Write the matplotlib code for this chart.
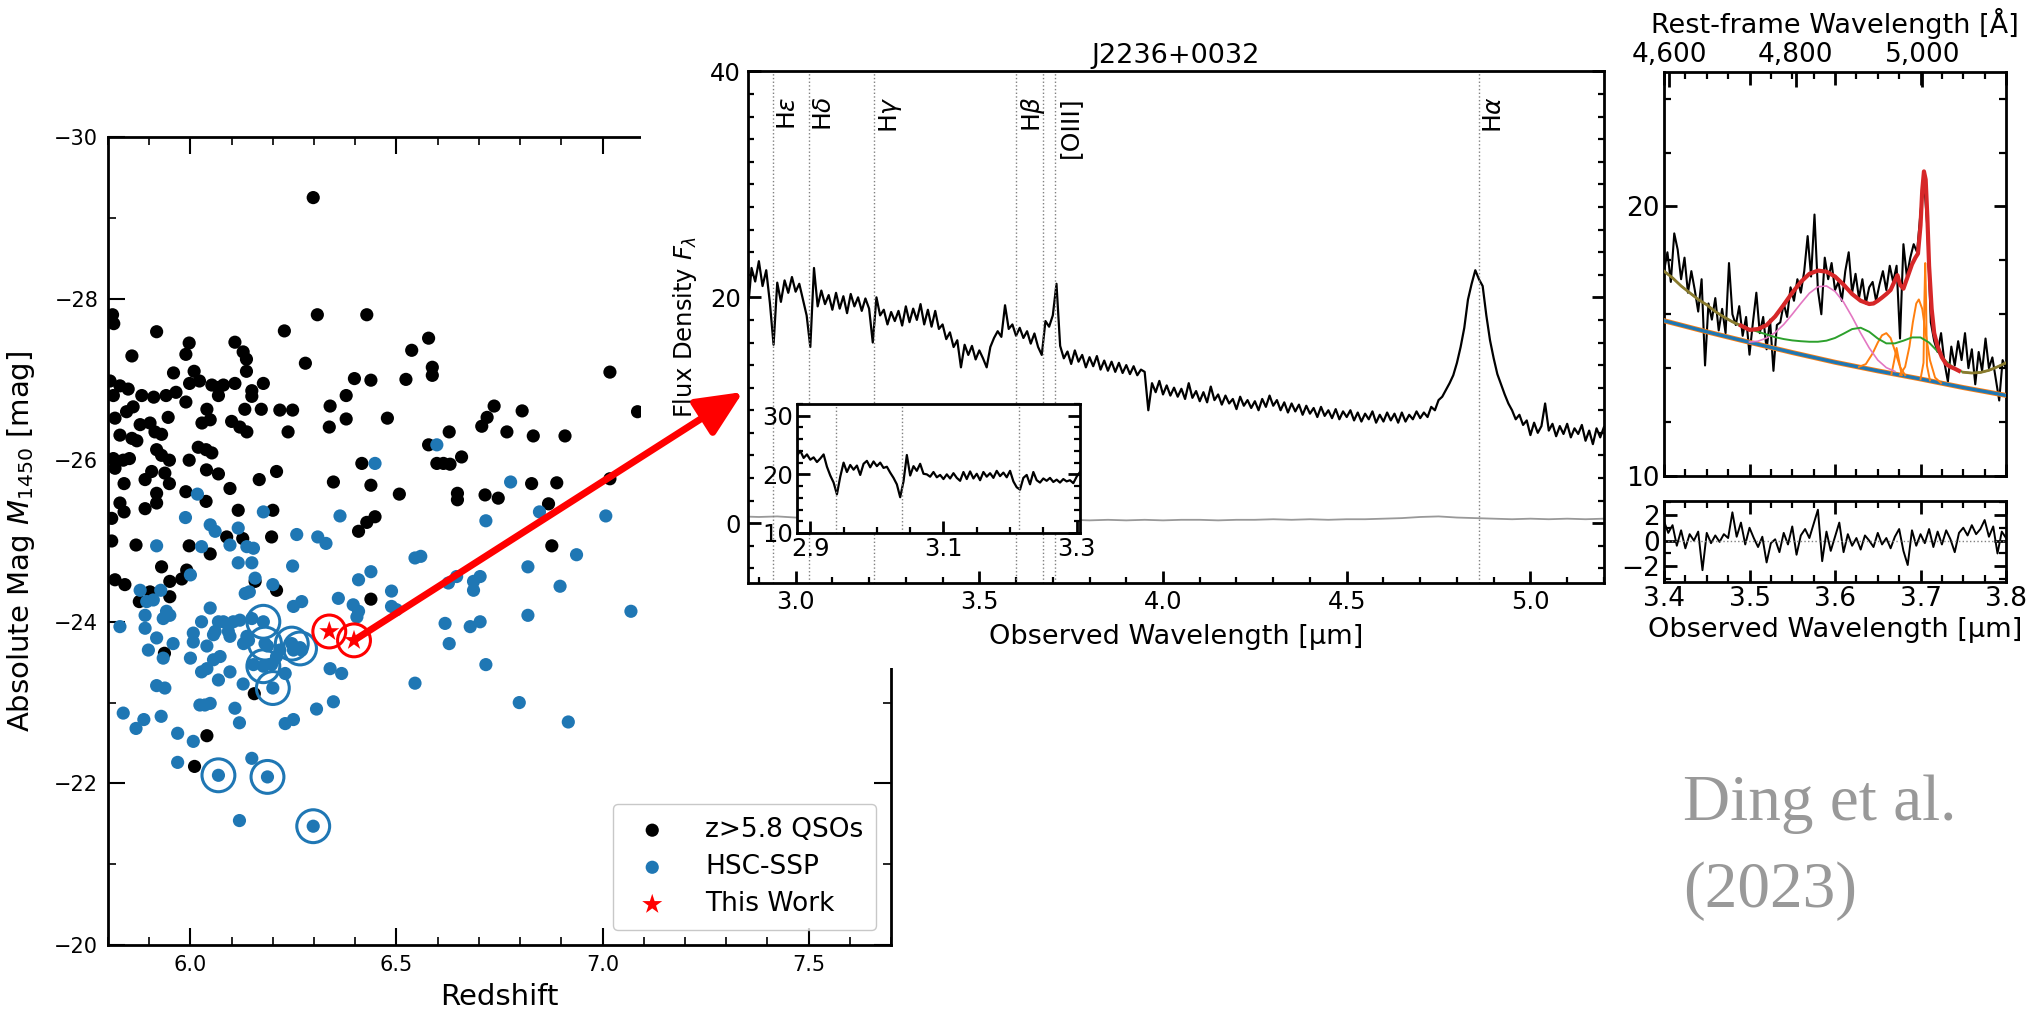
import numpy as np
import matplotlib
matplotlib.use("Agg")
import matplotlib.pyplot as plt
from matplotlib.patches import Rectangle, ConnectionPatch
from matplotlib.ticker import MultipleLocator, FixedLocator, FuncFormatter

plt.rcParams['font.family'] = 'DejaVu Sans'
plt.rcParams['mathtext.fontset'] = 'dejavusans'

# -----------------------------------------------------
# left panel: redshift vs absolute magnitude
# -----------------------------------------------------
qso_z = [6.298, 6.308, 6.428, 5.811, 5.814, 5.918, 6.228, 6.578, 6.537, 5.858,
         5.997, 5.989, 6.108, 6.128, 6.136, 6.279, 6.587, 6.587, 5.959, 6.009,
         6.136, 6.398, 6.438, 6.523, 5.805, 5.829, 5.849, 5.998, 6.022, 6.052,
         6.068, 6.080, 6.108, 6.149, 6.149, 6.177, 6.068, 6.378, 6.737, 6.805,
         6.720, 6.707, 6.768, 6.628, 6.337, 6.237, 6.217, 6.248, 6.132, 6.172,
         6.040, 6.028, 6.048, 6.378, 6.478, 5.813, 5.882, 5.911, 5.941, 5.965,
         5.989, 6.339, 5.946, 5.878, 5.902, 5.817, 5.845, 5.861, 6.100, 6.120,
         6.137, 5.914, 5.930, 5.829, 5.858, 5.870, 6.019, 6.038, 6.052, 5.918,
         5.930, 5.949, 5.813, 5.837, 5.852, 5.817, 5.997, 6.578, 6.598, 6.614,
         6.630, 6.658, 6.416, 6.039, 6.068, 5.906, 5.890, 5.938, 5.949, 6.209,
         6.167, 6.347, 6.438, 5.839, 6.096, 5.989, 5.918, 5.918, 6.507, 6.648,
         6.648, 6.715, 6.747, 5.829, 5.839, 5.890, 6.116, 6.200, 6.038, 6.448,
         6.428, 6.408, 5.809, 6.088, 6.127, 6.197, 5.809, 5.868, 5.997, 7.018,
         7.085, 6.832, 6.909, 6.828, 6.889, 6.869, 7.018, 6.877, 5.817, 5.841,
         5.930, 5.950, 5.979, 5.991, 5.876, 5.902, 5.950, 6.157, 6.209, 6.438,
         5.937, 6.155, 6.040, 6.010, 6.048]
qso_mag = [-29.25, -27.80, -27.80, -27.80, -27.69, -27.59, -27.60, -27.51, -27.36, -27.29,
           -27.45, -27.31, -27.46, -27.34, -27.25, -27.20, -27.15, -27.05, -27.08, -27.10,
           -27.10, -27.01, -26.99, -27.00, -26.98, -26.92, -26.88, -26.95, -26.98, -26.93,
           -26.90, -26.93, -26.95, -26.86, -26.79, -26.95, -26.80, -26.80, -26.67, -26.61,
           -26.53, -26.42, -26.35, -26.35, -26.41, -26.35, -26.62, -26.62, -26.63, -26.63,
           -26.63, -26.46, -26.50, -26.51, -26.52, -26.80, -26.80, -26.78, -26.80, -26.84,
           -26.72, -26.67, -26.53, -26.44, -26.46, -26.52, -26.60, -26.66, -26.48, -26.41,
           -26.35, -26.35, -26.32, -26.31, -26.27, -26.24, -26.16, -26.13, -26.09, -26.13,
           -26.06, -26.00, -26.02, -26.00, -26.02, -25.90, -26.00, -26.19, -25.96, -25.96,
           -25.95, -26.04, -25.96, -25.88, -25.83, -25.86, -25.76, -25.84, -25.71, -25.86,
           -25.76, -25.73, -25.69, -25.71, -25.65, -25.61, -25.59, -25.47, -25.58, -25.59,
           -25.51, -25.57, -25.53, -25.47, -25.36, -25.40, -25.38, -25.38, -25.49, -25.30,
           -25.23, -25.12, -25.28, -25.05, -25.03, -25.05, -25.00, -24.95, -24.94, -27.09,
           -26.60, -26.30, -26.30, -25.71, -25.72, -25.46, -25.77, -24.94, -24.52, -24.46,
           -24.68, -24.50, -24.53, -24.64, -24.25, -24.37, -24.31, -24.50, -24.39, -24.28,
           -23.61, -23.11, -22.59, -22.21, -24.84]

hsc_z = [6.598, 6.448, 6.777, 6.017, 6.717, 6.363, 6.177, 5.988, 6.048, 6.060,
         6.116, 6.258, 6.309, 6.329, 5.918, 6.027, 6.096, 6.137, 6.153, 6.545,
         6.559, 6.847, 7.008, 6.937, 6.819, 6.703, 6.897, 6.819, 7.069, 6.703,
         6.717, 6.798, 6.917, 6.618, 6.628, 6.679, 6.545, 6.626, 6.646, 6.687,
         6.687, 6.116, 6.149, 6.248, 6.000, 6.157, 6.200, 5.878, 5.928, 6.133,
         6.143, 5.894, 5.910, 6.408, 6.438, 6.488, 6.488, 6.500, 6.359, 6.395,
         6.408, 6.404, 6.250, 6.270, 6.048, 5.942, 5.950, 5.934, 5.890, 6.027,
         6.068, 6.080, 6.104, 6.120, 6.149, 5.829, 5.890, 6.007, 6.007, 6.056,
         6.060, 6.096, 6.092, 6.137, 6.129, 6.141, 6.177, 6.181, 6.187, 5.918,
         5.958, 5.898, 6.040, 5.934, 6.000, 6.056, 6.072, 6.027, 6.040, 6.096,
         6.153, 6.177, 6.197, 6.209, 6.217, 6.266, 6.250, 6.270, 6.246, 6.230,
         6.068, 6.128, 6.200, 6.339, 6.367, 5.918, 5.938, 6.023, 6.035, 6.048,
         6.108, 6.306, 6.347, 5.837, 5.887, 5.929, 5.868, 6.119, 6.230, 6.250,
         5.969, 6.007, 5.969, 6.149, 6.068, 6.187, 6.119, 6.298]
hsc_mag = [-26.19, -25.96, -25.73, -25.58, -25.25, -25.31, -25.36, -25.29, -25.20, -25.12,
           -25.16, -25.08, -25.05, -24.97, -24.94, -24.93, -24.95, -24.93, -24.91, -24.79,
           -24.81, -25.36, -25.31, -24.83, -24.68, -24.56, -24.44, -24.08, -24.13, -24.00,
           -23.47, -23.00, -22.76, -23.98, -23.73, -23.94, -23.24, -24.48, -24.56, -24.50,
           -24.39, -24.73, -24.73, -24.69, -24.58, -24.54, -24.46, -24.39, -24.39, -24.35,
           -24.37, -24.25, -24.27, -24.52, -24.62, -24.38, -24.19, -24.15, -24.29, -24.21,
           -24.13, -24.06, -24.19, -24.25, -24.17, -24.13, -24.08, -24.04, -24.08, -24.00,
           -24.00, -24.00, -24.00, -24.02, -24.04, -23.94, -23.92, -23.86, -23.75, -23.84,
           -23.88, -23.82, -23.88, -23.82, -23.73, -23.77, -24.00, -23.73, -23.70, -23.80,
           -23.73, -23.65, -23.70, -23.55, -23.55, -23.53, -23.57, -23.38, -23.42, -23.38,
           -23.47, -23.45, -23.47, -23.57, -23.65, -23.68, -23.65, -23.65, -23.73, -23.36,
           -23.28, -23.23, -23.18, -23.42, -23.36, -23.21, -23.18, -22.97, -22.97, -22.99,
           -22.93, -22.92, -23.01, -22.87, -22.79, -22.83, -22.68, -22.75, -22.74, -22.79,
           -22.62, -22.52, -22.26, -22.31, -22.10, -22.08, -21.54, -21.47]

ring_z = [6.177, 6.181, 6.246, 6.266, 6.177, 6.200, 6.068, 6.187, 6.298]
ring_mag = [-24.00, -23.73, -23.73, -23.67, -23.45, -23.18, -22.10, -22.08, -21.47]

star_z = [6.337, 6.397]
star_mag = [-23.88, -23.77]

# -----------------------------------------------------
# middle panel: full spectrum (2.87 - 5.20 um, 0.01 um steps)
# -----------------------------------------------------
spec_flux = [18.8, 22.6, 21.4, 23.2, 21.0, 22.4, 19.5, 15.8, 21.3, 19.6,
             21.5, 20.4, 21.8, 20.5, 21.2, 19.8, 18.4, 15.6, 22.6, 19.2,
             20.6, 19.4, 20.2, 18.9, 20.4, 19.0, 20.1, 18.6, 20.3, 19.2,
             20.0, 18.8, 19.9, 19.0, 16.0, 20.0, 18.4, 18.9, 17.6, 18.7,
             17.9, 18.8, 17.5, 19.2, 17.8, 19.0, 18.0, 19.4, 17.6, 18.9,
             17.4, 18.8, 17.2, 17.6, 16.3, 16.9, 15.6, 16.2, 13.8, 15.8,
             14.9, 15.7, 14.5, 15.3, 14.6, 13.8, 15.6, 16.4, 17.0, 16.5,
             19.3, 17.2, 17.6, 16.6, 17.3, 16.4, 17.0, 15.9, 16.8, 15.6,
             14.9, 17.9, 17.4, 18.4, 21.2, 15.7, 14.6, 15.2, 14.1, 15.3,
             14.3, 14.9, 13.8, 14.7, 13.9, 14.8, 13.6, 14.4, 13.5, 14.3,
             13.4, 14.2, 13.3, 14.0, 13.2, 13.9, 13.1, 13.6, 13.4, 10.0,
             12.4, 11.6, 12.6, 11.4, 12.2, 11.3, 12.0, 11.2, 11.9, 11.0,
             12.4, 11.1, 11.7, 10.8, 11.6, 10.7, 12.1, 10.9, 11.4, 10.5,
             11.3, 10.6, 11.0, 10.1, 11.2, 10.4, 10.9, 10.2, 10.8, 10.0,
             11.0, 10.3, 11.3, 10.4, 10.9, 10.0, 10.7, 9.8, 10.6, 9.9,
             10.5, 9.6, 10.4, 9.7, 10.2, 9.4, 10.3, 9.5, 10.0, 9.3,
             10.1, 9.2, 9.9, 9.4, 10.0, 9.1, 9.8, 9.0, 9.7, 9.2,
             9.9, 8.9, 9.6, 9.0, 9.8, 9.1, 9.7, 8.9, 9.8, 9.0,
             9.6, 9.2, 9.9, 9.3, 9.8, 9.4, 10.3, 10.0, 10.9, 11.2,
             11.8, 12.4, 13.1, 14.2, 15.6, 17.3, 19.8, 21.2, 22.4, 21.6,
             21.0, 18.4, 16.2, 14.6, 13.2, 12.3, 11.4, 10.6, 10.0, 9.2,
             9.6, 8.7, 9.1, 7.8, 8.9, 8.0, 8.6, 10.6, 8.2, 8.8,
             7.7, 8.6, 7.9, 8.8, 7.6, 8.4, 7.9, 8.7, 7.3, 8.2,
             7.0, 8.4, 7.6, 8.5]
spec_wave = np.linspace(2.87, 5.20, len(spec_flux))

err_flux = [0.60, 0.55, 0.60, 0.50, 0.55, 0.45, 0.50, 0.40, 0.45, 0.40,
            0.35, 0.40, 0.35, 0.30, 0.35, 0.30, 0.30, 0.25, 0.30, 0.25,
            0.30, 0.25, 0.30, 0.25, 0.30, 0.30, 0.25, 0.30, 0.30, 0.35,
            0.30, 0.35, 0.30, 0.35, 0.35, 0.40, 0.45, 0.55, 0.60, 0.50,
            0.45, 0.40, 0.35, 0.40, 0.35, 0.40, 0.35, 0.40]
err_wave = np.linspace(2.85, 5.20, len(err_flux))

line_waves = [2.939, 3.037, 3.213, 3.599, 3.672, 3.707, 4.859]
label_waves = [2.939, 3.037, 3.213, 3.599, 3.707, 4.859]
label_names = ['H$\\varepsilon$', 'H$\\delta$', 'H$\\gamma$', 'H$\\beta$', '[OIII]', 'H$\\alpha$']

# inset: zoom on the blue end (0.005 um steps)
inset_flux = [23.2, 24.0, 22.8, 23.4, 22.5, 22.9, 22.1, 22.7, 23.4, 21.3,
              19.8, 18.6, 16.6, 19.6, 22.0, 20.4, 21.6, 20.8, 21.5, 19.9,
              21.8, 22.3, 21.2, 22.2, 21.4, 22.0, 21.1, 21.3, 20.3, 19.4,
              18.3, 16.1, 18.8, 23.3, 19.8, 21.4, 20.6, 21.8, 20.1, 20.0,
              19.6, 20.4, 19.5, 19.9, 19.2, 20.0, 19.3, 20.2, 19.4, 18.9,
              20.4, 19.2, 20.5, 19.3, 20.1, 19.0, 20.4, 19.6, 20.2, 19.4,
              20.6, 19.7, 20.3, 19.5, 20.6, 18.8, 17.8, 17.4, 19.4, 19.9,
              18.3, 20.4, 19.0, 18.6, 19.3, 18.9, 19.4, 18.7, 19.1, 18.6,
              19.2, 18.8, 19.0, 18.5, 19.6, 20.4]
inset_wave = np.linspace(2.88, 3.305, len(inset_flux))
inset_ticks = [2.9, 3.1, 3.3]

# -----------------------------------------------------
# right panel: H-beta / [OIII] fit
# -----------------------------------------------------
zoom_flux = [17.6, 18.3, 17.2, 19.0, 18.4, 17.3, 18.1, 16.8, 17.6, 16.9,
             16.1, 17.3, 14.1, 16.4, 15.8, 16.6, 15.4, 16.2, 15.3, 17.9,
             16.0, 15.6, 16.3, 15.2, 15.9, 14.5, 15.7, 16.8, 15.3, 15.9,
             14.7, 15.8, 13.9, 15.6, 15.7, 16.4, 15.9, 17.0, 16.5, 17.3,
             16.8, 17.6, 18.9, 17.4, 19.7, 16.9, 16.0, 18.1, 17.3, 17.9,
             16.9, 17.2, 16.5, 17.6, 18.3, 16.8, 17.5, 16.6, 17.3, 16.4,
             17.0, 17.2, 16.5, 17.1, 17.6, 16.9, 17.8, 17.2, 17.8, 15.1,
             18.6, 17.4, 18.1, 18.6, 18.3, 19.8, 21.0, 19.2, 15.7, 15.0,
             14.6, 15.3, 14.2, 13.5, 14.8, 14.1, 15.0, 14.3, 15.3, 14.0,
             14.7, 13.4, 14.6, 13.9, 15.1, 14.0, 14.4, 13.6, 12.8, 14.3,
             14.0]
zoom_wave = np.linspace(3.40, 3.80, len(zoom_flux))

cont_wave = [3.40, 3.45, 3.50, 3.55, 3.60, 3.65, 3.70, 3.75, 3.80]
cont_flux = [15.76, 15.35, 14.96, 14.58, 14.22, 13.90, 13.60, 13.28, 12.99]

feii_flux = [17.60, 17.35, 17.05, 16.80, 16.55, 16.35, 16.10, 15.90, 15.72, 15.58,
             15.45, 15.35, 15.25, 15.15, 15.08, 15.03, 15.00, 14.98, 14.98, 15.02,
             15.12, 15.28, 15.45, 15.50, 15.35, 15.10, 14.92, 14.92, 15.02, 15.14,
             15.14, 14.95, 14.62, 14.25, 13.98, 13.85, 13.82, 13.84, 13.92, 14.05,
             14.20]
feii_wave = np.linspace(3.40, 3.80, len(feii_flux))

broad_hb_flux = [14.97, 15.00, 15.12, 15.32, 15.62, 16.00, 16.40, 16.78, 17.02,
                 17.05, 16.85, 16.45, 15.90, 15.30, 14.75, 14.30, 14.02, 13.88]
broad_hb_wave = np.linspace(3.50, 3.67, len(broad_hb_flux))

total_wave = [3.490, 3.500, 3.510, 3.520, 3.530, 3.540, 3.550, 3.560, 3.570, 3.580,
              3.590, 3.600, 3.610, 3.620, 3.630, 3.640, 3.645, 3.650, 3.655, 3.660,
              3.665, 3.670, 3.673, 3.676, 3.680, 3.685, 3.690, 3.694, 3.697, 3.700,
              3.702, 3.704, 3.706, 3.708, 3.710, 3.713, 3.716, 3.720, 3.725, 3.730,
              3.735, 3.740, 3.745]
total_flux = [15.58, 15.42, 15.45, 15.60, 15.92, 16.35, 16.80, 17.20, 17.50, 17.62,
              17.58, 17.40, 17.10, 16.75, 16.50, 16.38, 16.40, 16.50, 16.62, 16.75,
              16.90, 17.25, 17.45, 17.10, 16.95, 17.40, 17.85, 18.10, 18.25, 19.30,
              20.60, 21.30, 21.00, 19.60, 17.80, 16.20, 15.30, 14.80, 14.40, 14.15,
              14.05, 13.98, 13.90]

narrow_a_wave = [3.628, 3.636, 3.644, 3.650, 3.655, 3.660, 3.665, 3.670, 3.676, 3.682]
narrow_a_flux = [14.05, 14.15, 14.55, 14.95, 15.22, 15.30, 15.12, 14.65, 14.05, 13.74]
narrow_b_wave = [3.666, 3.669, 3.672, 3.675, 3.678]
narrow_b_flux = [13.78, 14.25, 14.75, 14.25, 13.74]
narrow_c_wave = [3.676, 3.682, 3.687, 3.691, 3.695, 3.698, 3.702, 3.706, 3.711, 3.717, 3.724]
narrow_c_flux = [13.75, 14.05, 14.80, 15.70, 16.40, 16.55, 16.20, 15.30, 14.30, 13.65, 13.45]
narrow_d_wave = [3.700, 3.7035, 3.7045, 3.7055, 3.7065, 3.7075, 3.711]
narrow_d_flux = [13.60, 14.20, 16.50, 17.90, 16.50, 14.10, 13.55]

resid_flux = [1.5, 0.6, 1.2, -0.4, 0.8, -0.6, 0.5, 0.0, 0.7, -2.3,
              0.6, -0.2, 0.4, -0.1, 0.5, 0.2, 2.2, 0.3, 1.4, -0.3,
              1.0, 0.2, -0.5, 0.3, -1.7, -0.2, 0.1, -0.9, 0.6, -0.3,
              1.1, -1.1, 0.4, 0.9, 0.2, 1.3, 2.4, -1.6, 0.7, -0.8,
              0.3, 1.4, -0.9, 0.5, -0.4, 0.2, -0.7, 0.4, 0.0, -0.5,
              0.6, -0.3, 0.2, -0.6, 0.3, 0.9, -0.8, -1.9, 0.8, -0.4,
              0.5, -0.2, 0.9, -0.5, 0.7, -0.3, 0.8, 0.1, -0.9, 0.6,
              1.0, 0.4, 1.2, 0.5, 0.9, 1.6, 0.3, 1.1, -1.0, 0.7,
              0.2]
resid_wave = np.linspace(3.40, 3.80, len(resid_flux))

redshift = 6.404
rest_ticks = [4600, 4800, 5000]


def style_axis(ax, size, major, minor, width=1.5, pad=4, **kw):
    ax.tick_params(which='both', direction='in', labelsize=size, pad=pad, **kw)
    ax.tick_params(which='major', length=major, width=width)
    ax.tick_params(which='minor', length=minor, width=width * 0.8)
    for s in ax.spines.values():
        s.set_linewidth(2)


fig = plt.figure(figsize=(20.3, 10.11), dpi=100)

# ---- left panel ----
ax1 = fig.add_axes([0.0532, 0.0653, 0.3857, 0.7992])
ax1.scatter(qso_z, qso_mag, s=90, c='black', edgecolors='none', label='z>5.8 QSOs', zorder=2)
ax1.scatter(hsc_z, hsc_mag, s=90, c='#1f77b4', edgecolors='none', label='HSC-SSP', zorder=3)
ax1.scatter(ring_z, ring_mag, s=560, facecolors='none', edgecolors='#1f77b4', linewidths=2.2, zorder=4)
ax1.scatter(star_z, star_mag, s=230, marker='*', c='red', edgecolors='none', label='This Work', zorder=5)
ax1.scatter(star_z, star_mag, s=560, facecolors='none', edgecolors='red', linewidths=2.2, zorder=5)
ax1.set_xlim(5.8, 7.7)
ax1.set_ylim(-20, -30)
ax1.xaxis.set_major_locator(MultipleLocator(0.5))
ax1.xaxis.set_minor_locator(MultipleLocator(0.1))
ax1.yaxis.set_major_locator(MultipleLocator(2))
ax1.yaxis.set_minor_locator(MultipleLocator(1))
style_axis(ax1, 15, 12, 6, pad=7, top=True, right=True)
ax1.set_xlabel('Redshift', fontsize=21, labelpad=6)
ax1.set_ylabel('Absolute Mag $M_{1450}$ [mag]', fontsize=21, labelpad=12)
ax1.legend(loc='lower right', fontsize=19, edgecolor='#bbbbbb', borderaxespad=0.55,
           handletextpad=1.0, labelspacing=0.42, borderpad=0.5)

# white patch: the spectrum figure is pasted over the upper right of the scatter plot
fig.add_artist(Rectangle((0.3158, 0.3393), 0.14, 0.6607, transform=fig.transFigure,
                         facecolor='white', edgecolor='none', zorder=1))

# ---- middle panel ----
ax2 = fig.add_axes([0.3684, 0.4233, 0.4217, 0.5060])
ax2.set_zorder(2)
ax2.plot(err_wave, err_flux, color='#999999', lw=1.3)
ax2.plot(spec_wave, spec_flux, color='black', lw=1.6)
for w in line_waves:
    ax2.axvline(w, color='gray', ls=':', lw=1)
for name, w in zip(label_names, label_waves):
    ax2.text(w + 0.008, 37.8, name, rotation=90, ha='left', va='top', fontsize=18)
ax2.set_xlim(2.87, 5.20)
ax2.set_ylim(-5.3, 40)
ax2.xaxis.set_major_locator(MultipleLocator(0.5))
ax2.xaxis.set_minor_locator(MultipleLocator(0.1))
ax2.yaxis.set_major_locator(MultipleLocator(20))
ax2.yaxis.set_minor_locator(MultipleLocator(2))
style_axis(ax2, 17.5, 9, 4.5, width=2, pad=5, top=False, right=True)
ax2.set_title('J2236+0032', fontsize=19.5, pad=6)
ax2.set_xlabel('Observed Wavelength [\u03bcm]', fontsize=19.5, labelpad=7)
ax2.set_ylabel('Flux Density $F_\\lambda$', fontsize=17.5, labelpad=8)

ax3 = fig.add_axes([0.3926, 0.4728, 0.1394, 0.1276])
ax3.set_zorder(3)
ax3.plot(inset_wave, inset_flux, color='black', lw=1.6)
for w in line_waves:
    ax3.axvline(w, color='gray', ls=':', lw=1)
ax3.set_xlim(2.88, 3.305)
ax3.set_ylim(10, 32)
ax3.xaxis.set_major_locator(FixedLocator(inset_ticks))
ax3.xaxis.set_minor_locator(MultipleLocator(0.05))
ax3.yaxis.set_major_locator(MultipleLocator(10))
ax3.yaxis.set_minor_locator(MultipleLocator(2))
style_axis(ax3, 17.5, 9, 4.5, width=2, pad=3, top=False, right=True)

# arrow from the selected quasar to the spectrum
arrow = ConnectionPatch(xyA=(star_z[1], star_mag[1]), coordsA=ax1.transData,
                        xyB=(0.366, 0.6123), coordsB=fig.transFigure,
                        arrowstyle='-|>,head_length=0.7,head_width=0.32',
                        mutation_scale=40, color='red', lw=5, zorder=6)
fig.add_artist(arrow)

# ---- right panel ----
ax4 = fig.add_axes([0.8197, 0.5292, 0.1685, 0.3999])
ax4.plot(zoom_wave, zoom_flux, color='black', lw=1.5, zorder=2)
ax4.plot(cont_wave, cont_flux, color='#ff7f0e', lw=3.6, zorder=3)
ax4.plot(cont_wave, cont_flux, color='#1f77b4', lw=2.4, zorder=3)
for xs, ys in [(narrow_a_wave, narrow_a_flux), (narrow_b_wave, narrow_b_flux),
               (narrow_c_wave, narrow_c_flux), (narrow_d_wave, narrow_d_flux)]:
    ax4.plot(xs, ys, color='#ff7f0e', lw=1.4, zorder=4)
ax4.plot(broad_hb_wave, broad_hb_flux, color='#e377c2', lw=1.2, zorder=4)
ax4.plot(feii_wave, feii_flux, color='#2ca02c', lw=1.4, zorder=4)
ends = (feii_wave < 3.50) | (feii_wave > 3.74)
ax4.plot(np.where(ends, feii_wave, np.nan), feii_flux, color='#8a7a2e', lw=2.0, zorder=5)
ax4.plot(total_wave, total_flux, color='#d62728', lw=3, zorder=5)
ax4.set_xlim(3.4, 3.8)
ax4.set_ylim(10, 25)
ax4.xaxis.set_major_locator(MultipleLocator(0.1))
ax4.xaxis.set_minor_locator(MultipleLocator(0.025))
ax4.yaxis.set_major_locator(MultipleLocator(10))
ax4.yaxis.set_minor_locator(MultipleLocator(2))
style_axis(ax4, 19, 9, 5, width=2, pad=3, top=True, right=True, labelbottom=False)

secax = ax4.secondary_xaxis('top', functions=(lambda x: x * 1e4 / (1 + redshift),
                                               lambda r: r * (1 + redshift) / 1e4))
secax.set_xticks(rest_ticks)
secax.xaxis.set_major_formatter(FuncFormatter(lambda v, p: f'{v:,.0f}'))
secax.tick_params(direction='in', length=11, width=2, labelsize=19, pad=3)
secax.set_xlabel('Rest-frame Wavelength [\u00c5]', fontsize=19.5, labelpad=6)

ax5 = fig.add_axes([0.8197, 0.4246, 0.1685, 0.0801])
ax5.plot(resid_wave, resid_flux, color='black', lw=1.4)
ax5.axhline(0, color='gray', ls=':', lw=1)
ax5.set_xlim(3.4, 3.8)
ax5.set_ylim(-3.2, 3.1)
ax5.xaxis.set_major_locator(MultipleLocator(0.1))
ax5.xaxis.set_minor_locator(MultipleLocator(0.025))
ax5.yaxis.set_major_locator(MultipleLocator(2))
ax5.yaxis.set_minor_locator(MultipleLocator(1))
style_axis(ax5, 19, 9, 5, width=2, pad=3, top=True, right=True)
ax5.set_xlabel('Observed Wavelength [\u03bcm]', fontsize=19.5, labelpad=4)

# citation
fig.text(0.829, 0.1889, 'Ding et al.', fontsize=47, family='Liberation Serif',
         color='#999999', va='baseline')
fig.text(0.829, 0.1029, '(2023)', fontsize=47, family='Liberation Serif',
         color='#999999', va='baseline')

fig.savefig('out.png', dpi=100)
